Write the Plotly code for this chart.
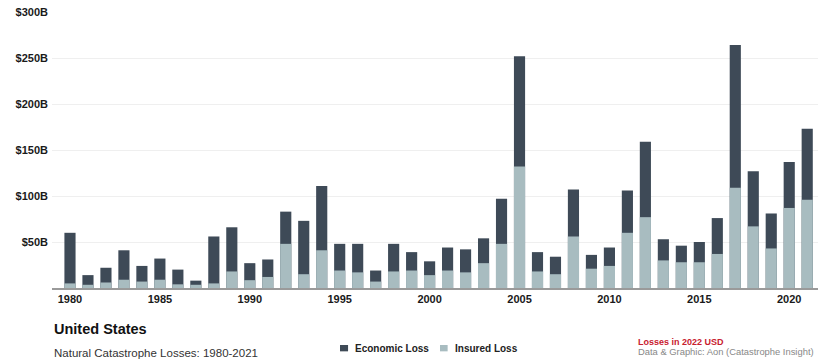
import plotly.graph_objects as go

years = list(range(1980, 2022))
economic_loss = [60, 14, 22, 41, 24, 32, 20, 8, 56, 66, 27, 31,
                 83, 73, 111, 48, 48, 19, 48, 39, 29, 44, 42, 54,
                 97, 252, 39, 34, 107, 36, 44, 106, 159, 53, 46, 50,
                 76, 264, 127, 81, 137, 173]
insured_loss = [5, 3.5, 6, 9, 7, 9, 4, 3.5, 5, 18, 8.5, 12,
                48, 15, 41, 19, 17, 7, 18, 19, 14, 19, 17, 27,
                48, 132, 18, 15, 56, 21, 24, 60, 77, 30, 28, 28,
                37, 109, 67, 43, 87, 96]
y_ticks = [0, 50, 100, 150, 200, 250, 300]
y_tick_text = ["", "$50B", "$100B", "$150B", "$200B", "$250B", "$300B"]
x_ticks = [1980, 1985, 1990, 1995, 2000, 2005, 2010, 2015, 2020]
series_names = ["Economic Loss", "Insured Loss"]

ECON = "#3e4a57"
INS = "#a8bcc0"
FONT = "Liberation Sans"

fig = go.Figure()
fig.add_trace(go.Bar(x=years, y=economic_loss, name=series_names[0],
                     marker=dict(color=ECON, line=dict(width=0))))
fig.add_trace(go.Bar(x=years, y=insured_loss, name=series_names[1],
                     marker=dict(color=INS, line=dict(width=0))))

fig.update_layout(
    width=822, height=362,
    margin=dict(l=52, r=4, t=12, b=74),
    paper_bgcolor="white", plot_bgcolor="white",
    barmode="overlay", bargap=0.38,
    showlegend=False,
    font=dict(family=FONT, color="#222222"),
    xaxis=dict(range=[1979.0, 2021.6], tickvals=x_ticks, showgrid=False,
               showline=True, linecolor="#9a9a9a", linewidth=1.5,
               ticks="", tickfont=dict(size=11, family=FONT, color="#1a1a1a", weight="bold"),
               zeroline=False),
    yaxis=dict(range=[0, 300], tickvals=y_ticks, ticktext=y_tick_text,
               showgrid=True, gridcolor="#efefef", gridwidth=1, zeroline=False,
               ticks="", ticklabelstandoff=3,
               tickfont=dict(size=11, family=FONT, color="#1a1a1a", weight="bold")),
)

# custom legend: small swatches + bold labels
legend_items = [(0.376, 0.3865, 0.393, ECON, series_names[0]),
                (0.5065, 0.5165, 0.523, INS, series_names[1])]
for x0, x1, xt, col, name in legend_items:
    fig.add_shape(type="rect", xref="paper", yref="paper",
                  x0=x0, x1=x1, y0=-0.2065, y1=-0.2295,
                  fillcolor=col, line=dict(width=0))
    fig.add_annotation(text="<b>" + name + "</b>", xref="paper", yref="paper",
                       x=xt, y=-0.218, xanchor="left", yanchor="middle", showarrow=False,
                       font=dict(size=10, family=FONT, color="#222222"))

fig.add_annotation(text="<b>United States</b>", xref="paper", yref="paper",
                   x=0, y=-0.149, xanchor="left", yanchor="middle", showarrow=False,
                   font=dict(size=14.5, family=FONT, color="#111111"))
fig.add_annotation(text="Natural Catastrophe Losses: 1980-2021", xref="paper", yref="paper",
                   x=0, y=-0.234, xanchor="left", yanchor="middle", showarrow=False,
                   font=dict(size=11.5, family=FONT, color="#333333"))
fig.add_annotation(text="<b>Losses in 2022 USD</b>", xref="paper", yref="paper",
                   x=0.763, y=-0.194, xanchor="left", yanchor="middle", showarrow=False,
                   font=dict(size=9, family=FONT, color="#c8202f"))
fig.add_annotation(text="Data & Graphic: Aon (Catastrophe Insight)", xref="paper", yref="paper",
                   x=0.763, y=-0.231, xanchor="left", yanchor="middle", showarrow=False,
                   font=dict(size=9.4, family=FONT, color="#888888"))

fig.write_html("out.html")
